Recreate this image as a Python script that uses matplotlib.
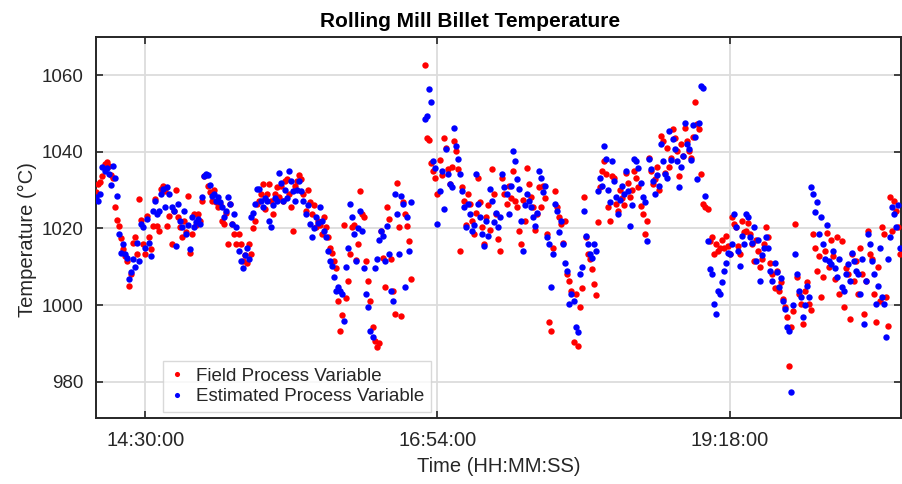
import numpy as np
import pandas as pd
import matplotlib
matplotlib.use("Agg")
import matplotlib.pyplot as plt
import matplotlib.dates as mdates

nan = np.nan

# One sample per minute, starting at 14:06:00
start_time = "2000-01-01 14:06:00"

field_pv = [
    1029.6, 1031.6, 1032.2, 1033.7, 1036.8, 1037.4, 1036.2, 1034.0, 1033.3, 1025.5,
    1022.2, 1020.7, 1017.6, 1014.6, 1012.9, 1011.6, 1005.0, 1008.0, 1016.3, 1017.7,
    1013.3, 1027.7, 1022.2, 1015.9, 1013.3, 1023.3, 1017.7, 1014.6, 1020.7, 1027.7,
    1020.7, 1019.4, 1030.3, 1031.1, 1029.8, 1020.7, 1023.3, 1015.9, 1024.6, 1030.0,
    1022.9, 1020.3, 1017.7, 1022.0, 1019.0, 1028.5, 1013.7, 1018.5, 1023.7, 1021.0,
    1023.7, 1022.0, 1027.2, 1033.7, 1034.0, 1031.0, 1029.4, 1027.2, 1030.0, 1027.0,
    1025.5, 1026.3, 1022.0, 1021.1, 1024.0, 1015.9, 1026.3, 1021.1, 1018.5, 1015.9,
    1018.5, 1015.9, 1011.6, 1013.0, 1011.0, 1016.0, 1013.3, 1020.0, 1022.0, 1026.3,
    1027.2, 1029.0, 1031.6, 1025.0, 1029.0, 1031.6, 1027.2, 1023.7, 1029.0, 1030.7,
    1028.1, 1031.0, 1027.2, 1032.4, 1033.0, 1029.0, 1025.5, 1019.4, 1031.0, 1032.4,
    1034.0, 1032.9, 1029.0, 1024.6, 1030.0, 1027.0, 1023.7, 1026.0, 1020.3, 1022.0,
    1021.0, 1018.5, 1022.9, 1020.3, 1017.7, 1015.0, 1013.6, 1011.6, 1009.8, 1001.1,
    993.2, 997.5, 1021.0, 1001.9, 1006.3, 1013.3, 1020.5, 1021.0, 1011.7, 1016.0,
    1029.8, 1023.7, 1022.9, 1011.6, 1006.3, 1001.1, 994.2, 990.7, 989.0, 990.0,
    1019.4, 1012.4, 1004.6, 1025.5, 1022.4, 1012.0, 1003.7, 997.7, 1032.0, 1020.3,
    997.2, 1026.8, 1023.7, 1020.7, 1016.8, 1006.8, nan, nan, nan, nan,
    nan, nan, 1062.7, 1043.7, 1043.0, 1037.2, 1035.0, 1033.3, 1029.0, 1038.0,
    1034.0, 1043.7, 1041.0, 1035.5, 1031.6, 1036.0, 1042.9, 1040.3, 1035.5, 1014.2,
    1030.7, 1027.2, 1021.0, 1029.0, 1026.3, 1022.0, 1018.5, 1024.0, 1033.3, 1027.0,
    1020.3, 1015.9, 1023.0, 1026.0, 1019.5, 1035.5, 1029.0, 1023.7, 1017.2, 1014.2,
    1033.3, 1029.0, 1026.3, 1031.0, 1028.0, 1035.0, 1027.2, 1025.5, 1019.4, 1015.9,
    1027.4, 1022.0, 1035.9, 1031.6, 1028.1, 1025.5, 1019.6, 1023.7, 1030.7, 1025.5,
    1031.0, 1028.0, 1018.5, 995.7, 993.3, 1015.0, 1029.8, 1025.5, 1022.9, 1021.1,
    1016.3, 1022.0, 1008.1, 1006.3, 1003.7, 990.3, 1002.9, 989.4, 999.4, 1004.5,
    1028.1, 1017.7, 1013.3, 1012.0, 1009.4, 1005.5, 1002.5, 1021.6, 1030.7, 1035.0,
    1037.7, 1034.2, 1025.5, 1022.0, 1033.7, 1033.3, 1026.3, 1024.6, 1030.0, 1028.0,
    1026.0, 1034.6, 1032.0, 1028.1, 1030.0, 1035.0, 1033.3, 1030.7, 1025.9, 1023.7,
    1018.5, 1022.0, 1038.5, 1035.0, 1031.6, 1033.0, 1036.0, 1030.0, 1044.2, 1042.9,
    1034.6, 1041.0, 1036.0, 1038.5, 1045.9, 1043.7, 1040.3, 1033.7, 1042.0, 1039.0,
    1046.3, 1042.9, 1040.3, 1038.5, 1044.0, 1052.9, 1047.2, 1046.0, 1034.2, 1026.3,
    1025.5, 1025.0, 1016.8, 1017.7, 1013.3, 1016.0, 1014.2, 1015.0, 1017.0, 1015.0,
    1018.0, 1015.5, 1013.3, 1022.9, 1021.1, 1020.3, 1015.5, 1013.3, 1022.0, 1019.0,
    1019.4, 1021.5, 1018.5, 1015.9, 1011.6, 1017.0, 1014.2, 1010.0, 1012.0, 1016.0,
    1020.3, 1017.7, 1011.0, 1008.1, 1004.5, 1009.0, 1003.7, 1006.0, 1001.5, 999.4,
    996.8, 984.2, 994.2, 998.5, 1021.1, 1007.2, 1003.0, 1000.3, 995.0, 1003.7,
    1006.0, 1000.4, 998.7, 1018.5, 1015.0, 1009.0, 1012.9, 1002.0, 1007.2, 1014.0,
    1018.8, 1010.0, 1017.0, 1012.8, 1006.8, 1017.7, 1002.9, 1016.8, 999.4, 1009.8,
    1008.1, 996.3, 1013.3, 1006.3, 1011.6, 1002.9, 1015.0, 1008.1, 997.7, 1006.3,
    1019.4, 1013.3, 1012.0, 1002.9, 995.5, 1010.0, 1001.1, 1020.3, 1018.5, 1002.0,
    994.6, 1028.1, 1019.4, 1027.2, 1024.6, 1020.3, 1013.3,
]

estimated_pv = [
    1028.1, 1027.2, 1029.0, 1036.1, 1035.0, 1035.9, 1034.2, 1031.4, 1036.3, 1033.3,
    1028.5, 1018.5, 1013.7, 1016.0, 1013.3, 1012.4, 1006.8, 1008.5, 1012.0, 1010.0,
    1016.3, 1011.6, 1021.1, 1020.3, 1015.0, 1022.4, 1016.3, 1012.9, 1024.6, 1027.2,
    1023.7, 1024.6, 1029.0, 1030.3, 1025.5, 1030.7, 1029.0, 1025.5, 1024.6, 1015.5,
    1026.3, 1022.0, 1020.3, 1024.6, 1018.5, 1021.0, 1014.6, 1022.9, 1020.3, 1021.8,
    1022.4, 1021.1, 1028.1, 1033.7, 1034.2, 1034.0, 1031.4, 1028.5, 1029.0, 1027.2,
    1028.1, 1026.8, 1025.5, 1022.9, 1024.6, 1028.1, 1026.3, 1021.1, 1023.7, 1020.3,
    1014.2, 1011.6, 1009.8, 1013.0, 1015.0, 1012.0, 1022.9, 1024.0, 1026.3, 1030.3,
    1030.3, 1027.2, 1025.5, 1028.0, 1027.2, 1022.0, 1020.3, 1026.0, 1028.0, 1027.2,
    1034.6, 1032.0, 1027.2, 1030.0, 1028.0, 1035.0, 1032.4, 1029.8, 1027.2, 1030.0,
    1032.5, 1029.8, 1027.2, 1023.7, 1026.0, 1021.1, 1017.7, 1020.0, 1023.0, 1021.5,
    1025.5, 1022.0, 1019.4, 1017.7, 1014.2, 1011.6, 1010.3, 1007.2, 1003.7, 1004.8,
    1003.7, 1002.9, 995.9, 1010.0, 1015.0, 1026.3, 1022.9, 1018.5, 1011.6, 1020.0,
    1024.6, 1019.4, 1009.8, 1003.0, 999.4, 993.3, 991.6, 1009.8, 1012.0, 1017.0,
    1019.4, 1018.1, 1011.6, 1020.7, 1013.3, 1003.7, 1001.1, 1029.0, 1023.7, 1013.3,
    1028.5, 1026.3, 1004.6, 1022.9, 1014.2, 1027.0, nan, nan, nan, nan,
    nan, nan, 1048.5, 1049.4, 1056.3, 1052.9, 1037.7, 1035.9, 1021.1, 1029.8,
    1035.0, 1025.0, 1040.7, 1034.2, 1031.6, 1030.7, 1046.3, 1041.6, 1038.1, 1034.2,
    1029.8, 1025.5, 1020.3, 1026.3, 1023.7, 1019.4, 1021.0, 1034.2, 1026.3, 1022.9,
    1018.5, 1015.5, 1022.0, 1018.0, 1030.3, 1027.2, 1021.6, 1024.0, 1020.5, 1023.0,
    1034.2, 1030.7, 1029.0, 1023.7, 1031.0, 1040.3, 1037.7, 1032.9, 1030.3, 1022.0,
    1014.2, 1026.0, 1029.0, 1027.2, 1025.5, 1022.9, 1020.7, 1024.0, 1035.0, 1033.3,
    1029.4, 1031.0, 1017.7, 1015.9, 1004.6, 1013.3, 1026.3, 1024.6, 1019.0, 1022.0,
    1015.9, 1011.1, 1009.0, 1000.3, 1002.9, 1001.1, 994.2, 992.9, 1008.1, 1010.0,
    1024.6, 1018.1, 1015.9, 1013.3, 1012.4, 1016.0, 1014.0, 1029.8, 1033.3, 1031.0,
    1041.6, 1038.1, 1030.0, 1027.0, 1037.7, 1032.4, 1028.1, 1023.7, 1027.5, 1031.0,
    1029.0, 1035.0, 1029.8, 1020.7, 1026.0, 1038.1, 1037.7, 1035.9, 1032.0, 1028.1,
    1026.8, 1016.8, 1038.1, 1035.5, 1032.4, 1029.0, 1034.0, 1031.0, 1042.0, 1037.7,
    1034.2, 1033.3, 1045.5, 1038.0, 1043.3, 1040.7, 1037.7, 1030.7, 1036.0, 1039.0,
    1047.6, 1042.0, 1040.7, 1038.0, 1047.0, 1044.0, 1032.9, 1047.6, 1057.2, 1056.8,
    1028.5, 1016.8, 1009.4, 1008.1, 1000.3, 997.7, 1003.7, 1002.9, 1006.0, 1009.0,
    1011.0, 1013.7, 1013.3, 1016.0, 1023.7, 1020.3, 1014.2, 1010.3, 1018.0, 1016.0,
    1023.7, 1022.9, 1017.7, 1016.3, 1020.3, 1011.6, 1017.0, 1006.3, 1013.0, 1015.0,
    1017.7, 1015.0, 1009.0, 1006.3, 1011.0, 1008.5, 1004.6, 1007.0, 1001.0, 999.0,
    994.2, 993.3, 977.2, 1000.0, 1013.3, 1008.1, 1003.7, 1002.0, 996.8, 1000.0,
    1005.0, 1002.0, 1030.7, 1029.0, 1024.2, 1026.8, 1018.5, 1022.9, 1015.9, 1012.0,
    1020.8, 1011.6, 1010.7, 1014.0, 1009.8, 1007.2, 1012.0, 1004.6, 1003.7, 1008.0,
    1010.7, 1006.3, 1013.7, 1011.6, 1009.0, 1008.1, 1002.9, 1012.0, 995.0, 1006.3,
    1018.5, 1015.9, 1011.6, 1008.1, 1000.3, 1005.0, 1015.0, 1002.0, 1000.3, 991.6,
    1012.0, 1017.7, 1025.5, 1023.7, 1020.3, 1026.0, 1015.0,
]

x_tick_labels = ["14:30:00", "16:54:00", "19:18:00"]
y_tick_values = [980, 1000, 1020, 1040, 1060]

day = "2000-01-01 "
t_field = pd.date_range(start_time, periods=len(field_pv), freq="1min")
t_est = pd.date_range(start_time, periods=len(estimated_pv), freq="1min")

plt.rcParams["font.family"] = ["Liberation Sans", "DejaVu Sans"]

W, H = 902, 484
fig = plt.figure(figsize=(W / 100, H / 100), dpi=100)
fig.patch.set_facecolor("white")
ax = fig.add_axes([96 / W, 66 / H, 805 / W, 381 / H])

ax.plot(t_field, field_pv, linestyle="none", marker="o", ms=4.6,
        mfc="#ff0000", mec="none", label="Field Process Variable", zorder=3)
ax.plot(t_est, estimated_pv, linestyle="none", marker="o", ms=4.6,
        mfc="#0000ff", mec="none", label="Estimated Process Variable", zorder=3)

ax.set_xlim(pd.Timestamp(day + "14:05:48"), pd.Timestamp(day + "20:42:18"))
ax.set_ylim(970.5, 1070)
ax.set_xticks([pd.Timestamp(day + s) for s in x_tick_labels])
ax.xaxis.set_major_formatter(mdates.DateFormatter("%H:%M:%S"))
ax.set_yticks(y_tick_values)

ax.grid(True, color="#dcdcdc", linewidth=1.3)
ax.set_axisbelow(True)

dark = "#262626"
for side in ax.spines.values():
    side.set_color(dark)
    side.set_linewidth(1.4)
ax.tick_params(direction="in", length=5, width=1.2, colors=dark,
               top=True, right=True, labelsize=13.5)
ax.tick_params(axis="x", labelsize=14.5)
ax.tick_params(axis="y", pad=9)
ax.tick_params(axis="x", pad=9)

ax.set_xlabel("Time (HH:MM:SS)", fontsize=14.5, color=dark)
ax.xaxis.set_label_coords(0.5, -(466 - 418) / 381)
ax.xaxis.label.set_va("center")
ax.set_ylabel("Temperature (\u00b0C)", fontsize=14.5, color=dark)
ax.yaxis.set_label_coords((27 - 96) / 805, (418 - 240) / 381)
ax.yaxis.label.set_va("center")

fig.text(470 / W, 1 - 27 / H, "Rolling Mill Billet Temperature",
         ha="center", va="baseline", fontsize=15, fontweight="bold", color="black")

leg = ax.legend(loc="lower left", bbox_to_anchor=((163 - 96) / 805, 6 / 381),
                borderaxespad=0, fontsize=13.5, frameon=True, fancybox=False,
                handlelength=0.8, handletextpad=0.6, borderpad=0.35,
                labelspacing=0.2, markerscale=0.8)
leg.get_frame().set_edgecolor("#d0d0d0")
leg.get_frame().set_linewidth(1.0)
for txt in leg.get_texts():
    txt.set_color(dark)

fig.savefig("out.png", dpi=100, facecolor="white")
